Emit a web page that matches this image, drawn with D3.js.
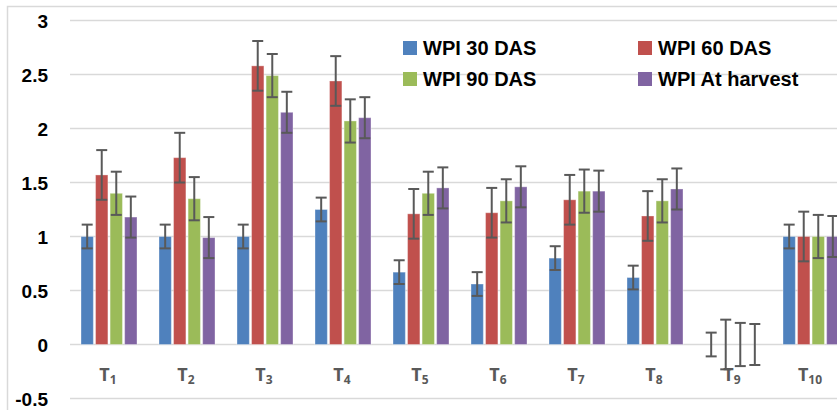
<!DOCTYPE html>
<html>
<head>
<meta charset="utf-8">
<script src="https://cdn.jsdelivr.net/npm/d3@7"></script>
<style>
  html, body { margin: 0; padding: 0; background: #fff; }
  svg { display: block; }
</style>
</head>
<body>
<div id="chart"></div>
<script>
// treatments (T + subscript)
var categories = ["T1", "T2", "T3", "T4", "T5", "T6", "T7", "T8", "T9", "T10"];
var subscripts = ["1", "2", "3", "4", "5", "6", "7", "8", "9", "10"];

var seriesNames = ["WPI 30 DAS", "WPI 60 DAS", "WPI 90 DAS", "WPI At harvest"];

var wpi30 = [1.00, 1.00, 1.00, 1.25, 0.67, 0.56, 0.80, 0.62, 0, 1.00];
var wpi60 = [1.57, 1.73, 2.58, 2.44, 1.21, 1.22, 1.34, 1.19, 0, 1.00];
var wpi90 = [1.40, 1.35, 2.49, 2.07, 1.40, 1.33, 1.42, 1.33, 0, 1.00];
var wpiHarvest = [1.18, 0.99, 2.15, 2.10, 1.45, 1.46, 1.42, 1.44, 0, 1.00];

// error bar size per series
var errors = [0.11, 0.23, 0.20, 0.19];

var yTicks = [-0.5, 0, 0.5, 1, 1.5, 2, 2.5, 3];

var colors = ["#4f81bd", "#c0504d", "#9bbb59", "#8064a2"];

var width = 837, height = 410;

var allSeries = [wpi30, wpi60, wpi90, wpiHarvest];

var svg = d3.select("#chart").append("svg")
    .attr("width", width)
    .attr("height", height);

// outer chart border (left + top)
svg.append("path")
    .attr("d", "M7.5," + height + "V6.5H" + width)
    .attr("fill", "none")
    .attr("stroke", "#d9d9d9")
    .attr("stroke-width", 1.5);

var x0 = d3.scaleBand()
    .domain(categories)
    .range([70, 850])
    .padding(0);

var x1 = d3.scaleBand()
    .domain(d3.range(seriesNames.length))
    .range([11, 67])
    .paddingInner(0.15);

var y = d3.scaleLinear()
    .domain([-0.5, 3])
    .range([398.5, 20.5]);

// gridlines
svg.append("g").attr("class", "grid")
  .selectAll("line")
  .data(yTicks)
  .enter().append("line")
    .attr("x1", 70)
    .attr("x2", width)
    .attr("y1", function(d) { return y(d); })
    .attr("y2", function(d) { return y(d); })
    .attr("stroke", "#d9d9d9")
    .attr("stroke-width", 1.5);

// y axis labels
var yAxis = d3.axisLeft(y)
    .tickValues(yTicks)
    .tickSize(0)
    .tickPadding(0)
    .tickFormat(function(d) { return String(d); });

var yg = svg.append("g")
    .attr("transform", "translate(48,0)")
    .call(yAxis);
yg.select(".domain").remove();
yg.selectAll("text")
    .attr("font-family", "'Liberation Sans', Arial, sans-serif")
    .attr("font-weight", "bold")
    .attr("font-size", 19)
    .attr("fill", "#000")
    .attr("dy", "0.36em");

// bars
var rows = [];
categories.forEach(function(c, i) {
  allSeries.forEach(function(s, j) {
    rows.push({ cat: c, s: j, value: s[i], err: errors[j] });
  });
});

var bars = svg.append("g").attr("class", "bars");
bars.selectAll("rect")
  .data(rows)
  .enter().append("rect")
    .attr("x", function(d) { return x0(d.cat) + x1(d.s); })
    .attr("width", x1.bandwidth())
    .attr("y", function(d) { return y(Math.max(d.value, 0)); })
    .attr("height", function(d) { return Math.abs(y(d.value) - y(0)); })
    .attr("fill", function(d) { return colors[d.s]; })
    .attr("stroke", "rgba(255,255,255,0.35)")
    .attr("stroke-width", 1);

// error bars
var capHalf = 5.5;
var eb = svg.append("g").attr("class", "errorbars")
  .selectAll("g")
  .data(rows)
  .enter().append("g")
    .attr("transform", function(d) {
      return "translate(" + (x0(d.cat) + x1(d.s) + x1.bandwidth() / 2) + ",0)";
    });

eb.append("line")
    .attr("y1", function(d) { return y(d.value + d.err); })
    .attr("y2", function(d) { return y(d.value - d.err); });
eb.append("line")
    .attr("x1", -capHalf).attr("x2", capHalf)
    .attr("y1", function(d) { return y(d.value + d.err); })
    .attr("y2", function(d) { return y(d.value + d.err); });
eb.append("line")
    .attr("x1", -capHalf).attr("x2", capHalf)
    .attr("y1", function(d) { return y(d.value - d.err); })
    .attr("y2", function(d) { return y(d.value - d.err); });
eb.selectAll("line")
    .attr("stroke", "#595959")
    .attr("stroke-width", 2);

// x labels: T with subscript
var xl = svg.append("g").attr("class", "xlabels")
  .selectAll("text")
  .data(categories)
  .enter().append("text")
    .attr("x", function(d) { return x0(d) + x0.bandwidth() / 2 - 1; })
    .attr("y", 381)
    .attr("text-anchor", "middle")
    .attr("font-family", "'Open Sans', 'Liberation Sans', sans-serif")
    .attr("font-weight", "bold")
    .attr("font-size", 18)
    .attr("fill", "#595959");
xl.append("tspan").text("T");
xl.append("tspan")
    .attr("font-size", 12)
    .attr("dy", 3)
    .text(function(d, i) { return subscripts[i]; });

// legend
var legendPos = [[403, 41], [638, 41], [403, 72], [638, 72]];
var lg = svg.append("g").attr("class", "legend")
  .selectAll("g")
  .data(seriesNames)
  .enter().append("g")
    .attr("transform", function(d, i) {
      return "translate(" + legendPos[i][0] + "," + legendPos[i][1] + ")";
    });
lg.append("rect")
    .attr("width", 14)
    .attr("height", 14)
    .attr("fill", function(d, i) { return colors[i]; });
lg.append("text")
    .attr("x", 20)
    .attr("y", 13.5)
    .attr("font-family", "'Liberation Sans', Arial, sans-serif")
    .attr("font-weight", "bold")
    .attr("font-size", 20)
    .attr("fill", "#000")
    .text(function(d) { return d; });
</script>
</body>
</html>
